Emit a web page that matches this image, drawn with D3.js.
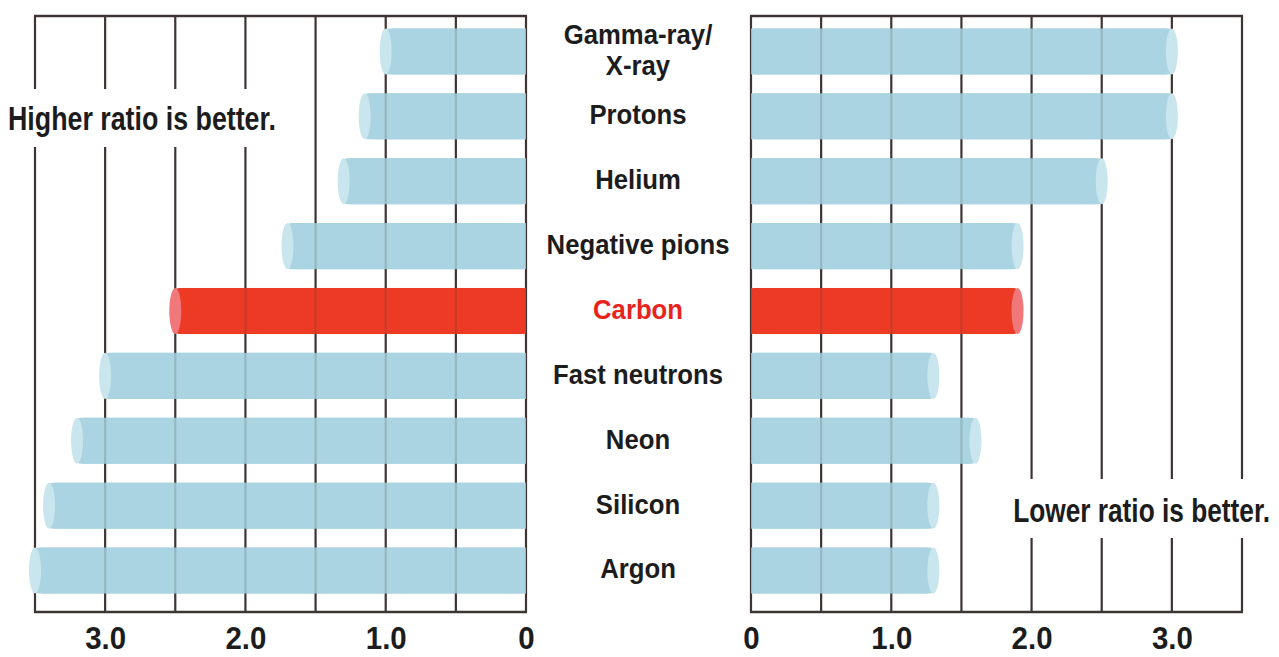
<!DOCTYPE html>
<html><head><meta charset="utf-8">
<script src="https://cdn.jsdelivr.net/npm/d3@7"></script>
<style>
body{margin:0;background:#fff;}
svg{display:block;}
.lbl{font-family:"Liberation Sans","Arial",sans-serif;font-weight:700;}
.tick text{font-family:"Liberation Sans","Arial",sans-serif;font-weight:bold;}
</style></head>
<body>
<script>
const categories = ["Gamma-ray/\nX-ray","Protons","Helium","Negative pions","Carbon","Fast neutrons","Neon","Silicon","Argon"];
const leftValues = [1.0,1.15,1.3,1.7,2.5,3.0,3.2,3.4,3.5];
const rightValues = [3.0,3.0,2.5,1.9,1.9,1.3,1.6,1.3,1.3];
const highlight = "Carbon";
const tickValues = [0,1,2,3];
const gridValues = [0,0.5,1,1.5,2,2.5,3,3.5];

const W=1279,H=657;
const svg=d3.select("body").append("svg").attr("width",W).attr("height",H);
const frameTop=16,frameBottom=612;
const y=d3.scaleBand().domain(categories).range([19,603]).paddingInner(0.29).paddingOuter(0.145);
const xL=d3.scaleLinear().domain([0,3.5]).range([526,35]);
const xR=d3.scaleLinear().domain([0,3.5]).range([751,1242]);

const blue="#a9d4e0", blueCap="#c9e5ee", red="#ec3b26", redCap="#f0777a";
const lineCol="#3e3434";

function panel(x,vals,side){
  const g=svg.append("g");
  const data=categories.map((c,i)=>({c,v:vals[i]}));
  g.selectAll("rect.base").data(data).join("rect")
    .attr("x",d=>Math.min(x(0),x(d.v)))
    .attr("width",d=>Math.abs(x(d.v)-x(0)))
    .attr("y",d=>y(d.c)).attr("height",y.bandwidth())
    .attr("rx",4)
    .attr("fill",d=>d.c===highlight?red:blue);
  g.selectAll("line.grid").data(gridValues).join("line")
    .attr("x1",d=>x(d)).attr("x2",d=>x(d)).attr("y1",frameTop).attr("y2",frameBottom)
    .attr("stroke",lineCol).attr("stroke-width",2.2);
  g.selectAll("rect.ov").data(data).join("rect")
    .attr("x",d=>Math.min(x(0),x(d.v))+(side==="L"?6:0))
    .attr("width",d=>Math.abs(x(d.v)-x(0))-6)
    .attr("y",d=>y(d.c)).attr("height",y.bandwidth())
    .attr("fill",d=>d.c===highlight?red:blue).attr("opacity",0.82);
  g.selectAll("ellipse.ov").data(data).join("ellipse")
    .attr("cx",d=>x(d.v)).attr("cy",d=>y(d.c)+y.bandwidth()/2)
    .attr("rx",6).attr("ry",y.bandwidth()/2)
    .attr("fill",d=>d.c===highlight?redCap:blueCap);
  const [a,b]=x.range();
  g.append("line").attr("x1",Math.min(a,b)-1).attr("x2",Math.max(a,b)+1).attr("y1",frameTop).attr("y2",frameTop).attr("stroke",lineCol).attr("stroke-width",2.4);
  const ax=g.append("g").attr("transform",`translate(0,${frameBottom})`)
    .call(d3.axisBottom(x).tickValues(tickValues).tickSize(0).tickPadding(14).tickFormat(d=>d===0?"0":d3.format(".1f")(d)));
  ax.select(".domain").remove();
  g.append("line").attr("x1",Math.min(a,b)-1).attr("x2",Math.max(a,b)+1).attr("y1",frameBottom).attr("y2",frameBottom).attr("stroke",lineCol).attr("stroke-width",2.4);
  ax.selectAll("text").attr("font-size",32).attr("fill","#1c1c1c").attr("dy","0.71em").attr("transform","scale(0.92,1)");
}
panel(xL,leftValues,"L");
panel(xR,rightValues,"R");

function condensedText(parent,x,yy,lines,size,anchor,fill,lh){
  const t=parent.append("text").attr("class","lbl").attr("font-size",size).attr("fill",fill)
    .attr("text-anchor",anchor).attr("transform",`translate(${x},${yy})`);
  lines.forEach((l,i)=>{
    t.append("tspan").attr("x",0).attr("y",(i-(lines.length-1)/2)*lh).attr("dy","0.36em").text(l);
  });
  return t;
}
const lab=svg.append("g");
const labelY=c=>y(c)+y.bandwidth()/2-2;
const catTexts=categories.map(c=>condensedText(lab,638,labelY(c),c.split("\n"),27.5,"middle",c===highlight?"#e8231c":"#1c1c1c",31.5));
const np=catTexts[3].node().getComputedTextLength();
const sCat=183/np;
catTexts.forEach((t,i)=>t.attr("transform",`translate(638,${labelY(categories[i])}) scale(${sCat},1)`));

svg.append("rect").attr("x",0).attr("y",89).attr("width",282).attr("height",58).attr("fill","#fff");
const hi=condensedText(svg,8,118,["Higher ratio is better."],33,"start","#1c1c1c",0);
const sHi=268/hi.node().getComputedTextLength();
hi.attr("transform",`translate(8,118) scale(${sHi},1)`);
svg.append("rect").attr("x",1006).attr("y",479).attr("width",273).attr("height",59).attr("fill","#fff");
const lo=condensedText(svg,1270,510,["Lower ratio is better."],33,"end","#1c1c1c",0);
const sLo=257/lo.node().getComputedTextLength();
lo.attr("transform",`translate(1270,510) scale(${sLo},1)`);
</script>
</body></html>
